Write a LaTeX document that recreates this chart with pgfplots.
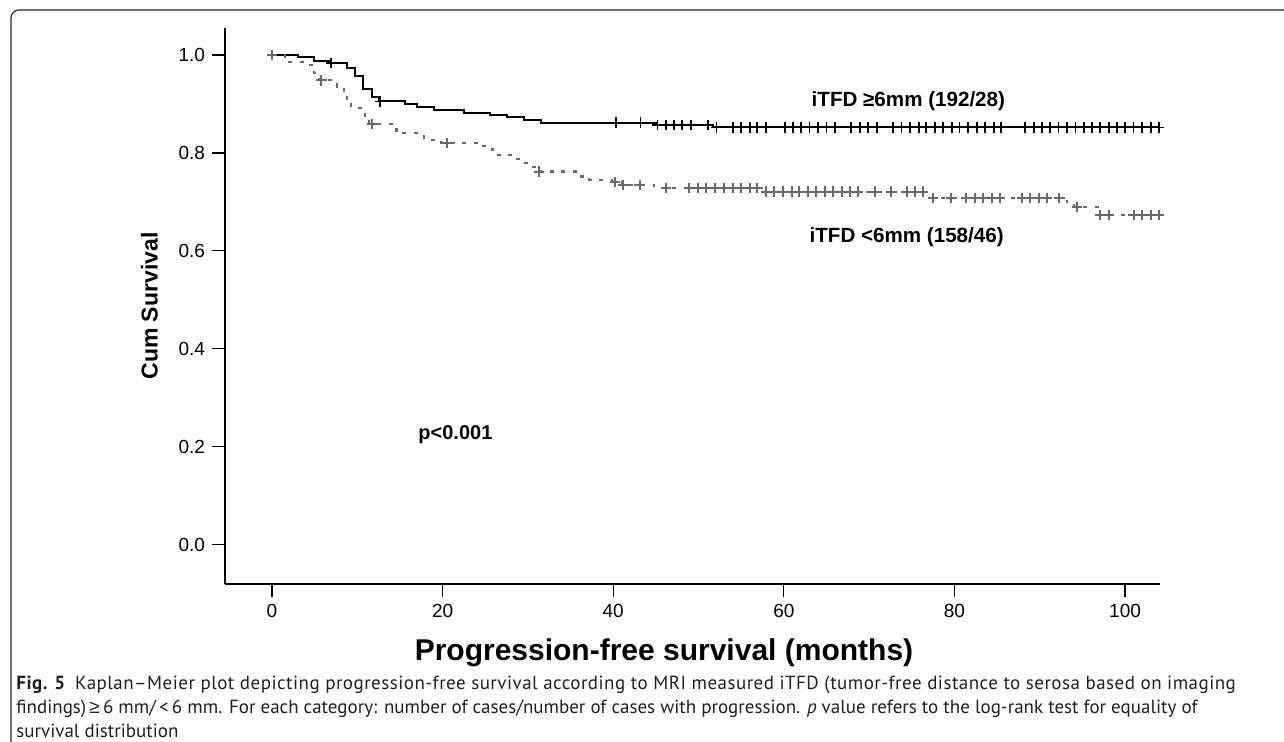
\documentclass[border=0pt]{standalone}
\usepackage{pgfplots}
\pgfplotsset{compat=1.18}
\usepackage{fontspec}
\setmainfont{Liberation Sans}
\newfontfamily\capfont{PT Sans}
\definecolor{kmgray}{RGB}{105,105,105}
\definecolor{capcol}{RGB}{35,31,32}

\begin{document}
\begin{tikzpicture}
\useasboundingbox (0,0) rectangle (642pt,371pt);
% rounded frame, only top and left visible
\draw[line width=0.6pt, black!85] (642pt,366pt) -- (9.5pt,366pt)
    arc[start angle=90, end angle=180, radius=4pt] -- (5.5pt,0pt);

\begin{axis}[
    at={(112.5pt,79pt)}, anchor=south west,
    scale only axis,
    width=467.5pt, height=278pt,
    xmin=-5.51, xmax=104.1,
    ymin=-0.080, ymax=1.055,
    axis x line*=bottom, axis y line*=left,
    axis line style={-, line width=1pt},
    tick align=outside,
    major tick length=6.5pt,
    tick style={line width=0.6pt, black},
    xtick={0,20,40,60,80,100},
    ytick={0,0.2,0.4,0.6,0.8,1.0},
    /pgf/number format/assume math mode=true,
    yticklabel style={/pgf/number format/.cd, fixed, fixed zerofill, precision=1},
    ticklabel style={font=\fontsize{9.5}{11}\selectfont},
    xlabel={Progression-free survival (months)},
    ylabel={Cum Survival},
    xlabel style={font=\fontsize{15}{17}\selectfont\bfseries,
        at={(axis description cs:0.4695,0)}, anchor=base, yshift=-38.5pt},
    ylabel style={font=\fontsize{11.5}{13}\selectfont\bfseries, yshift=3.5pt},
    clip=false,
]
% iTFD >= 6 mm
\addplot[const plot, black, line width=1pt] coordinates {
(0,1.000) (3.1,0.995) (4.9,0.988) (6.9,0.984) (8.8,0.973) (9.75,0.957)
(10.7,0.930) (11.7,0.915) (12.6,0.905) (15.6,0.900) (17.0,0.894) (19.0,0.888)
(22.5,0.882) (25.6,0.878) (27.6,0.873) (29.5,0.867) (31.5,0.862) (45.0,0.857)
(51.7,0.852) (104.1,0.852)
};
\addplot[only marks, mark=+, mark size=2.6pt, black, mark options={line width=0.9pt}] coordinates {
(6.9,0.984) (12.7,0.905) (40.3,0.862) (43.2,0.862)
(45.2,0.857) (46.2,0.857) (47.1,0.857) (48.1,0.857) (49.1,0.857) (51.1,0.857)
(52.1,0.852) (54.0,0.852) (55.0,0.852) (56.0,0.852) (56.9,0.852) (57.9,0.852)
(60.1,0.852) (61.1,0.852) (62.0,0.852) (63.0,0.852) (64.0,0.852) (65.0,0.852) (66.0,0.852)
(67.9,0.852) (68.9,0.852) (69.9,0.852) (70.9,0.852)
(72.8,0.852) (73.8,0.852) (74.8,0.852) (75.8,0.852) (76.7,0.852) (77.7,0.852) (78.7,0.852)
(79.7,0.852) (80.6,0.852) (81.6,0.852) (82.6,0.852) (83.6,0.852) (84.6,0.852) (85.5,0.852)
(88.3,0.852) (89.3,0.852) (90.3,0.852) (91.2,0.852) (92.2,0.852) (93.2,0.852) (94.2,0.852)
(95.2,0.852) (96.1,0.852) (97.1,0.852) (98.1,0.852) (99.1,0.852) (100.0,0.852) (101.0,0.852)
(102.0,0.852) (103.0,0.852) (104.0,0.852)
};
% iTFD < 6 mm
\addplot[const plot, kmgray, line width=1.1pt, dash pattern=on 2pt off 3.8pt] coordinates {
(0,1.000) (1.5,0.986) (3.8,0.980) (4.9,0.963) (5.5,0.948) (7.6,0.935) (8.4,0.923)
(8.8,0.907) (9.3,0.891) (10.9,0.871) (11.4,0.859) (14.6,0.840) (17.8,0.827)
(19.8,0.820) (24.2,0.814) (25.3,0.807) (25.9,0.796) (28.5,0.787) (29.3,0.780)
(30.2,0.772) (31.0,0.762) (35.6,0.752) (37.2,0.745) (39.9,0.741) (41.0,0.735)
(44.8,0.728) (57.4,0.721) (76.8,0.708) (93.2,0.699) (94.0,0.690) (96.8,0.673)
(104.1,0.673)
};
\addplot[only marks, mark=+, mark size=2.6pt, kmgray, mark options={line width=1pt}] coordinates {
(0,1.000) (5.8,0.948) (11.7,0.859) (20.5,0.820) (31.3,0.762) (40.2,0.741)
(41.2,0.735) (43.1,0.735) (46.2,0.728) (48.9,0.728) (49.9,0.728) (50.9,0.728)
(51.9,0.728) (53.0,0.728) (54.0,0.728) (55.0,0.728) (56.0,0.728) (56.9,0.728)
(57.9,0.721) (58.9,0.721) (59.9,0.721) (60.9,0.721) (61.8,0.721) (62.8,0.721)
(63.8,0.721) (64.8,0.721) (65.8,0.721) (66.8,0.721) (67.7,0.721) (68.7,0.721)
(70.7,0.721) (72.6,0.721) (74.4,0.721) (75.4,0.721) (76.3,0.721)
(77.5,0.708) (79.6,0.708) (81.4,0.708) (82.4,0.708) (83.4,0.708) (84.4,0.708)
(85.3,0.708) (87.9,0.708) (88.9,0.708) (89.9,0.708) (90.8,0.708) (92.3,0.708)
(94.4,0.690) (97.1,0.673) (98.1,0.673) (101.0,0.673) (102.0,0.673) (103.0,0.673) (104.0,0.673)
};
\node[font=\fontsize{10.3}{12}\selectfont\bfseries] at (axis cs:74.6,0.905) {iTFD ≥6mm (192/28)};
\node[font=\fontsize{10.3}{12}\selectfont\bfseries] at (axis cs:74.4,0.627) {iTFD <6mm (158/46)};
\node[font=\fontsize{10}{12}\selectfont\bfseries] at (axis cs:21.5,0.224) {p<0.001};
\end{axis}

% caption, one node per line
\begin{scope}[every node/.style={anchor=base west, inner sep=0pt, text=capcol,
      font=\capfont\fontsize{9.5}{12}\selectfont}]
\node at (8pt,26pt) {\addfontfeature{LetterSpace=2.5}\textbf{Fig. 5}\enspace Kaplan–Meier plot depicting progression-free survival according to MRI measured iTFD (tumor-free distance to serosa based on imaging};
\node at (8pt,14pt) {findings)\,{\rmfamily ≥}\,6 mm/\,<\,6 mm. For each category: number of cases/number of cases with progression. \textit{p} value refers to the log-rank test for equality of};
\node at (8pt,2pt) {survival distribution};
\end{scope}
\end{tikzpicture}
\end{document}
